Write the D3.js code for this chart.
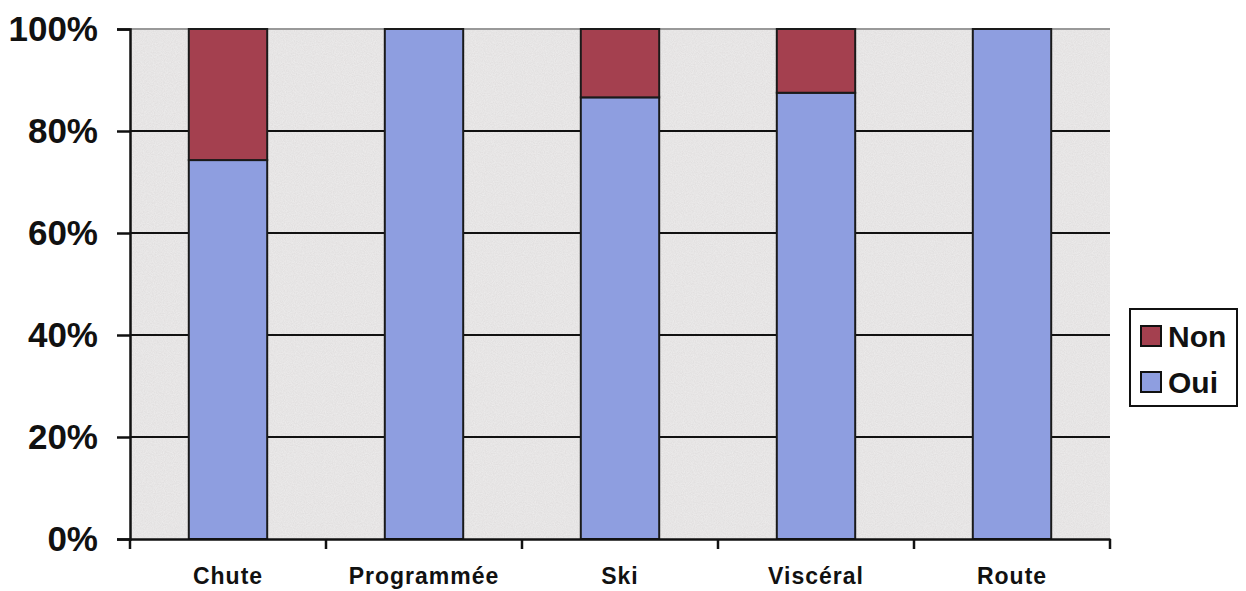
<!DOCTYPE html>
<html><head><meta charset="utf-8">
<script src="https://cdn.jsdelivr.net/npm/d3@7/dist/d3.min.js"></script>
<style>body{margin:0;background:#fff}svg{display:block}</style>
</head><body>
<svg id="c" width="1246" height="591"></svg>
<script>
const categories = ["Chute","Programmée","Ski","Viscéral","Route"];
const oui = [74.3, 100, 86.6, 87.5, 100];
const non = [25.7, 0, 13.4, 12.5, 0];
const yTicks = [0,20,40,60,80,100];
const seriesNames = ["Non","Oui"];
const colors = {Oui:"#8e9ee0", Non:"#a4404f"};

const svg = d3.select("#c");
const m = {l:130, r:1110, t:29, b:539};
const x = d3.scaleBand().domain(categories).range([m.l, m.r]).paddingInner(0.6).paddingOuter(0.3);
const xb = d3.scaleBand().domain(categories).range([m.l, m.r]);
const y = d3.scaleLinear().domain([0,100]).range([m.b, m.t]);

const defs = svg.append("defs");
const f = defs.append("filter").attr("id","noise").attr("x",0).attr("y",0).attr("width","100%").attr("height","100%");
f.append("feTurbulence").attr("type","fractalNoise").attr("baseFrequency",0.9).attr("numOctaves",2).attr("seed",3).attr("result","n");
f.append("feColorMatrix").attr("in","n").attr("type","matrix").attr("values","0 0 0 0 1  0 0 0 0 1  0 0 0 0 1  0 0 0 0.5 -0.1").attr("result","a");
f.append("feComposite").attr("in","a").attr("in2","SourceGraphic").attr("operator","in").attr("result","b");
f.append("feMerge").selectAll("feMergeNode").data(["SourceGraphic","b"]).join("feMergeNode").attr("in",d=>d);

svg.append("rect").attr("x",m.l).attr("y",m.t).attr("width",m.r-m.l).attr("height",m.b-m.t)
  .attr("fill","#e2e0e0").attr("filter","url(#noise)");

// gridlines
svg.append("g").selectAll("line").data(yTicks.filter(d=>d>0)).join("line")
  .attr("x1",m.l).attr("x2",m.r).attr("y1",d=>y(d)).attr("y2",d=>y(d))
  .attr("stroke",d=>d===100?"#999":"#111").attr("stroke-width",2);

const stackData = categories.map((c,i)=>({cat:c, Oui:oui[i], Non:non[i]}));
const stack = d3.stack().keys(["Oui","Non"])(stackData);
svg.append("g").selectAll("g").data(stack).join("g")
  .attr("fill",d=>colors[d.key])
  .selectAll("rect").data(d=>d.filter(p=>p[1]-p[0]>0)).join("rect")
  .attr("x",d=>x(d.data.cat)).attr("width",x.bandwidth())
  .attr("y",d=>y(d[1])).attr("height",d=>y(d[0])-y(d[1]))
  .attr("stroke","#1a1a1a").attr("stroke-width",2);

// y axis
const ya = svg.append("g").attr("transform",`translate(${m.l},0)`)
  .call(d3.axisLeft(y).tickValues(yTicks).tickFormat(d=>d+"%").tickSize(13).tickPadding(19));
ya.select(".domain").attr("stroke","#111").attr("stroke-width",2.5);
ya.selectAll(".tick line").attr("stroke","#111").attr("stroke-width",2.5);
ya.selectAll("text").attr("font-family","Liberation Sans, Arial, sans-serif").attr("font-weight","bold")
  .attr("font-size",35).attr("fill","#111");

// x axis
const xa = svg.append("g").attr("transform",`translate(0,${m.b})`)
  .call(d3.axisBottom(xb).tickSize(0).tickPadding(29));
xa.select(".domain").attr("stroke","#111").attr("stroke-width",2.5);
xa.selectAll("text").attr("font-family","Liberation Sans, Arial, sans-serif").attr("font-weight","bold")
  .attr("font-size",23).attr("letter-spacing",1).attr("fill","#111");
svg.append("g").selectAll("line").data(d3.range(categories.length+1)).join("line")
  .attr("x1",i=>m.l+i*xb.step()).attr("x2",i=>m.l+i*xb.step())
  .attr("y1",m.b).attr("y2",m.b+10).attr("stroke","#111").attr("stroke-width",2.5);

// legend
const lg = svg.append("g").attr("transform","translate(1130,309)");
lg.append("rect").attr("width",107).attr("height",97).attr("fill","#fff").attr("stroke","#111").attr("stroke-width",2);
const li = lg.selectAll("g").data(seriesNames).join("g").attr("transform",(d,i)=>`translate(11,${27+i*46})`);
li.append("rect").attr("x",0).attr("y",-10).attr("width",20).attr("height",20)
  .attr("fill",d=>colors[d]).attr("stroke","#111").attr("stroke-width",2);
li.append("text").attr("x",27).attr("y",11).text(d=>d)
  .attr("font-family","Liberation Sans, Arial, sans-serif").attr("font-weight","bold").attr("font-size",30).attr("fill","#111");
</script>
</body></html>
